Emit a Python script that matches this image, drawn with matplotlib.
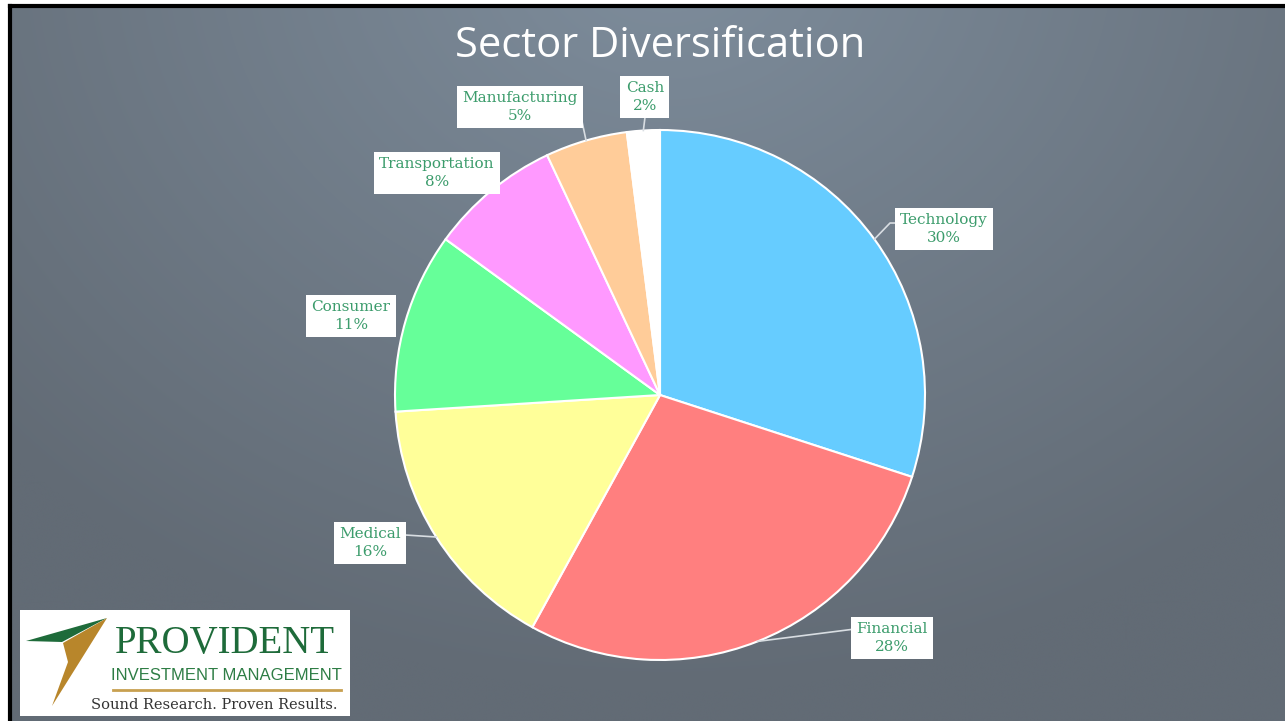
"""Sector Diversification pie chart on a slide-style background."""
import numpy as np
import matplotlib
matplotlib.use("Agg")
import matplotlib.pyplot as plt
from matplotlib.patches import Rectangle, Polygon

# data
sectors = ["Technology", "Financial", "Medical", "Consumer",
           "Transportation", "Manufacturing", "Cash"]
shares = [30, 28, 16, 11, 8, 5, 2]
colors = ["#66CCFF", "#FF7F7F", "#FFFF99", "#66FF99",
          "#FF99FF", "#FFCC99", "#FFFFFF"]

# label box centres (pie units) and leader end points
label_pos = [(1.072, 0.626), (0.875, -0.917), (-1.094, -0.558),
             (-1.166, 0.298), (-0.842, 0.838), (-0.528, 1.087),
             (-0.057, 1.125)]
leader_end = [[(0.868, 0.649), (0.894, 0.649)],
              [(0.736, -0.883)],
              [(-0.966, -0.528)],
              None,
              None,
              [(-0.309, 1.102)],
              [(-0.057, 1.045)]]

W, H = 1285, 721
fig = plt.figure(figsize=(W / 100, H / 100), dpi=100)
fig.patch.set_facecolor("white")

# background gradient
bg = fig.add_axes([0, 0, 1, 1])
bg.set_xlim(0, W)
bg.set_ylim(H, 0)
bg.axis("off")
yy, xx = np.mgrid[0:H, 0:W]
d = np.sqrt(((xx - 660) / 900.0) ** 2 + ((yy + 60) / 750.0) ** 2)
t = np.clip(d, 0, 1)
top = np.array([126, 141, 156]) / 255.0
bot = np.array([98, 107, 117]) / 255.0
img = top[None, None, :] * (1 - t[..., None]) + bot[None, None, :] * t[..., None]
bg.imshow(img, extent=(10, W + 2, H, 6), aspect="auto", zorder=0)
bg.plot([9.5, W], [5.5, 5.5], color="black", lw=3, zorder=1)
bg.plot([9.5, 9.5], [5.5, H], color="black", lw=3, zorder=1)

bg.text(660, 46, "Sector Diversification", color="white", fontsize=30,
        family="Open Sans", ha="center", va="center")

# logo
bg.add_patch(Rectangle((20, 610), 330, 106, fc="white", ec="none", zorder=2))
bg.add_patch(Polygon([(26, 641), (107, 618), (62, 642)], closed=True,
                     fc="#1E6B3A", ec="none", zorder=3))
bg.add_patch(Polygon([(107, 618), (63, 643), (68, 662), (52, 706)],
                     closed=True, fc="#B8862B", ec="none", zorder=3))
bg.text(225, 643, "PROVIDENT", color="#1E6B3A", fontsize=28,
        family="Liberation Serif", ha="center", va="center", zorder=4)
bg.text(226, 675, "INVESTMENT MANAGEMENT", color="#2E7D45", fontsize=12,
        family="Liberation Sans", ha="center", va="center", zorder=4)
bg.plot([113, 341], [690, 690], color="#C8A050", lw=2, zorder=4)
bg.text(214, 705, "Sound Research. Proven Results.", color="#333333",
        fontsize=10.5, family="DejaVu Serif", ha="center", va="center",
        zorder=4)

# pie
cx, cy, r = 660, 395, 265
ax = fig.add_axes([(cx - r) / W, (H - cy - r) / H, 2 * r / W, 2 * r / H])
ax.pie(shares, colors=colors, startangle=90, counterclock=False,
       wedgeprops=dict(edgecolor="white", linewidth=1.5))
ax.set_xlim(-1, 1)
ax.set_ylim(-1, 1)
ax.set_aspect("equal")
ax.axis("off")

total = float(sum(shares))
start = 90.0
for name, val, pos, end in zip(sectors, shares, label_pos, leader_end):
    span = 360.0 * val / total
    mid = np.deg2rad(start - span / 2)
    start -= span
    p0 = (np.cos(mid), np.sin(mid))
    if end:
        pts = [p0] + end
        ax.plot([p[0] for p in pts], [p[1] for p in pts], color="#D8DDE2",
                lw=1.2, clip_on=False, zorder=4)
    ax.text(pos[0], pos[1], f"{name}\n{val}%", color="#3C9C6C",
            fontsize=11, family="DejaVu Serif", ha="center", va="center",
            linespacing=1.3, zorder=5, clip_on=False,
            bbox=dict(boxstyle="square,pad=0.35", fc="white", ec="none"))

fig.savefig("out.png", dpi=100)
